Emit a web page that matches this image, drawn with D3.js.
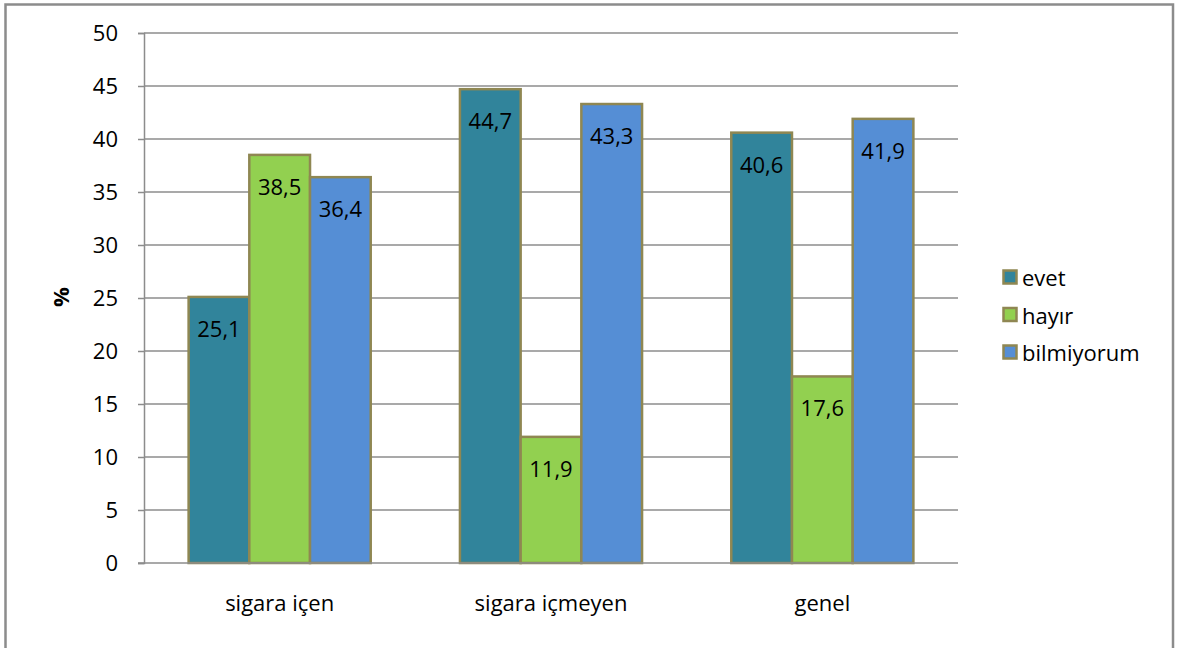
<!DOCTYPE html>
<html>
<head>
<meta charset="utf-8">
<script src="https://cdn.jsdelivr.net/npm/d3@7"></script>
<style>
  html, body { margin: 0; padding: 0; background: #fff; }
  svg { display: block; font-family: "Open Sans", "Noto Sans", sans-serif; }
</style>
</head>
<body>
<svg id="chart" width="1178" height="648"></svg>
<script>
// Survey answers by smoking status (%)
const categories = ["sigara içen", "sigara içmeyen", "genel"];
const seriesNames = ["evet", "hayır", "bilmiyorum"];
const evet = [25.1, 44.7, 40.6];
const hayir = [38.5, 11.9, 17.6];
const bilmiyorum = [36.4, 43.3, 41.9];
const yTicks = [0, 5, 10, 15, 20, 25, 30, 35, 40, 45, 50];
const colors = ["#31849B", "#92D050", "#558ED5"];

const seriesValues = [evet, hayir, bilmiyorum];
const rows = categories.map((c, i) => ({
  category: c,
  values: seriesNames.map((s, j) => ({ series: s, value: seriesValues[j][i], color: colors[j] }))
}));

const svg = d3.select("#chart");
const fmt = v => String(v).replace(".", ",");
const fontSize = 22;

// outer frame
svg.append("rect")
  .attr("x", 5.5).attr("y", 4.5)
  .attr("width", 1167.5).attr("height", 660)
  .attr("fill", "none").attr("stroke", "#8c8c8c").attr("stroke-width", 2.5);

const plot = { left: 144, right: 958, top: 33, bottom: 563 };

const y = d3.scaleLinear().domain([0, 50]).range([plot.bottom, plot.top]);
const x0 = d3.scaleBand().domain(categories).range([plot.left, plot.right]).padding(0);
const gap = 1.47;
const barW = x0.bandwidth() / (seriesNames.length + gap);
const groupW = barW * seriesNames.length;
const x1 = d3.scaleBand().domain(seriesNames)
  .range([(x0.bandwidth() - groupW) / 2, (x0.bandwidth() + groupW) / 2]).padding(0);

// gridlines
svg.append("g")
  .selectAll("line")
  .data(yTicks.filter(t => t > 0))
  .join("line")
  .attr("x1", plot.left).attr("x2", plot.right)
  .attr("y1", d => y(d)).attr("y2", d => y(d))
  .attr("stroke", "#8c8c8c").attr("stroke-width", 1.5);

// y axis
const yAxis = svg.append("g")
  .attr("transform", `translate(${plot.left},0)`)
  .call(d3.axisLeft(y).tickValues(yTicks).tickSize(6).tickPadding(20).tickFormat(d3.format("d")));
yAxis.select(".domain").attr("stroke", "#8c8c8c").attr("stroke-width", 1.5);
yAxis.selectAll(".tick line").attr("stroke", "#8c8c8c").attr("stroke-width", 1.5);
yAxis.selectAll("text")
  .attr("font-size", fontSize).attr("fill", "#000")
  .attr("font-family", "'Open Sans', sans-serif");

// bars
const groups = svg.append("g")
  .selectAll("g")
  .data(rows)
  .join("g")
  .attr("transform", d => `translate(${x0(d.category)},0)`);

groups.selectAll("rect")
  .data(d => d.values)
  .join("rect")
  .attr("x", d => x1(d.series))
  .attr("y", d => y(d.value))
  .attr("width", x1.bandwidth())
  .attr("height", d => y(0) - y(d.value))
  .attr("fill", d => d.color)
  .attr("stroke", "#8f8752")
  .attr("stroke-width", 2.5);

groups.selectAll("text")
  .data(d => d.values)
  .join("text")
  .attr("x", d => x1(d.series) + x1.bandwidth() / 2)
  .attr("y", d => y(d.value) + 31)
  .attr("text-anchor", "middle")
  .attr("dominant-baseline", "central")
  .attr("font-size", fontSize)
  .attr("fill", "#000")
  .text(d => fmt(d.value));

// x axis baseline
const xAxis = svg.append("g")
  .attr("transform", `translate(0,${plot.bottom})`)
  .call(d3.axisBottom(x0).tickSize(0).tickPadding(32));
xAxis.select(".domain").attr("stroke", "#8c8c8c").attr("stroke-width", 1.5)
  .attr("d", `M${plot.left - 6},0H${plot.right}`);
xAxis.selectAll("text")
  .attr("font-size", fontSize).attr("fill", "#000")
  .attr("font-family", "'Open Sans', sans-serif");

// y axis title
svg.append("text")
  .attr("transform", "translate(60,297) rotate(-90)")
  .attr("text-anchor", "middle")
  .attr("dominant-baseline", "central")
  .attr("font-size", fontSize)
  .attr("font-weight", "bold")
  .text("%");

// legend
const legend = svg.append("g")
  .selectAll("g")
  .data(seriesNames)
  .join("g")
  .attr("transform", (d, i) => `translate(1002,${277 + i * 37.5})`);
legend.append("rect")
  .attr("x", 1.5).attr("y", -6.5)
  .attr("width", 13).attr("height", 13)
  .attr("fill", (d, i) => colors[i])
  .attr("stroke", "#8f8752").attr("stroke-width", 2.5);
legend.append("text")
  .attr("x", 20).attr("y", 0)
  .attr("dominant-baseline", "central")
  .attr("font-size", fontSize)
  .text(d => d);
</script>
</body>
</html>
